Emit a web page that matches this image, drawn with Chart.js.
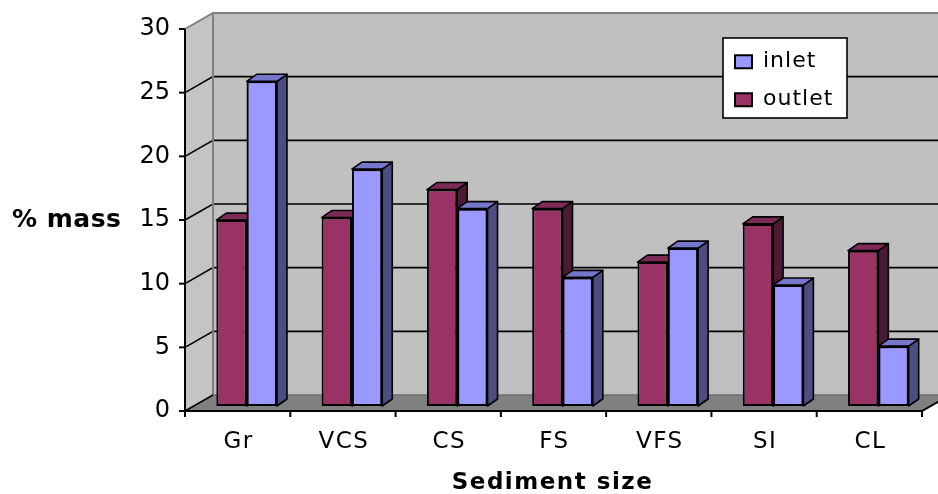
<!DOCTYPE html>
<html>
<head>
<meta charset="utf-8">
<script src="https://cdn.jsdelivr.net/npm/chart.js@4.4.1/dist/chart.umd.min.js"></script>
<style>
html,body{margin:0;padding:0;background:#ffffff;}
#wrap{width:938px;height:494px;}
</style>
</head>
<body>
<div id="wrap"><canvas id="c" width="938" height="494"></canvas></div>
<script>
// ---- data ----
const categories = ['Gr', 'VCS', 'CS', 'FS', 'VFS', 'SI', 'CL'];
const outletValues = [14.6, 14.8, 17.0, 15.5, 11.3, 14.3, 12.2];
const inletValues = [25.5, 18.6, 15.5, 10.1, 12.4, 9.5, 4.7];
const seriesNames = ['outlet', 'inlet'];
const yTickValues = [0, 5, 10, 15, 20, 25, 30];
const xAxisTitle = 'Sediment size';
const yAxisTitle = '% mass';

// ---- styling / pseudo-3D geometry ----
const FRONT = { dx: -9, dy: 5 };
const BACK = { dx: 19, dy: -11 };
const BAR_DEPTH = { dx: 10, dy: -7 };
const FACE_COLORS = [
  { front: '#993366', side: '#4d1a33', top: '#7d2a55' },
  { front: '#9999ff', side: '#4d4d80', top: '#7676cc' }
];

function poly(ctx, pts) {
  ctx.beginPath();
  ctx.moveTo(pts[0][0], pts[0][1]);
  for (let i = 1; i < pts.length; i++) ctx.lineTo(pts[i][0], pts[i][1]);
  ctx.closePath();
}
function line(ctx, pts, color, w) {
  ctx.beginPath();
  ctx.moveTo(pts[0][0], pts[0][1]);
  for (let i = 1; i < pts.length; i++) ctx.lineTo(pts[i][0], pts[i][1]);
  ctx.strokeStyle = color;
  ctx.lineWidth = w;
  ctx.stroke();
}
function withSpacing(obj, method, spacing, shiftX) {
  if (!obj || obj['_sp_' + method]) return;
  const orig = obj[method];
  obj['_sp_' + method] = true;
  obj[method] = function (...args) {
    const ctx = this.ctx;
    ctx.save();
    ctx.letterSpacing = spacing;
    if (shiftX) ctx.translate(shiftX, 0);
    const r = orig.apply(this, args);
    ctx.restore();
    return r;
  };
}

const fake3d = {
  id: 'fake3d',
  afterLayout(chart) {
    const lg = chart.legend;
    if (lg) {
      lg.left = 719; lg.top = 34.7;
      lg.width = 140; lg.height = 200;
      lg.right = lg.left + lg.width; lg.bottom = lg.top + lg.height;
      withSpacing(lg, 'draw', '1px', 0);
    }
    withSpacing(chart.scales.x, 'drawLabels', '1.5px', 0);
    withSpacing(chart.scales.x, 'drawTitle', '1.5px', -10);
  },
  beforeDraw(chart) {
    const { ctx, chartArea: ca, scales } = chart;
    const x = scales.x, y = scales.y;
    const yMin = yTickValues[0], yMax = yTickValues[yTickValues.length - 1];
    const fy = v => y.getPixelForValue(v) + FRONT.dy;
    const by = v => y.getPixelForValue(v) + BACK.dy;
    const fl = ca.left + FRONT.dx, fr = ca.right + FRONT.dx;
    const bl = ca.left + BACK.dx, br = ca.right + BACK.dx;
    ctx.save();
    // back wall
    ctx.fillStyle = '#c0c0c0';
    poly(ctx, [[bl, by(yMax)], [br + 40, by(yMax)], [br + 40, by(yMin)], [bl, by(yMin)]]);
    ctx.fill();
    // left wall
    ctx.fillStyle = '#c4c4c4';
    poly(ctx, [[fl, fy(yMax)], [bl, by(yMax)], [bl, by(yMin)], [fl, fy(yMin)]]);
    ctx.fill();
    // floor
    ctx.fillStyle = '#808080';
    poly(ctx, [[fl, fy(yMin)], [fr, fy(yMin)], [br, by(yMin)], [bl, by(yMin)]]);
    ctx.fill();
    // gridlines
    yTickValues.forEach(v => {
      if (v === yMin || v === yMax) return;
      line(ctx, [[fl, fy(v)], [bl, by(v)], [br + 40, by(v)]], '#000000', 1.6);
    });
    // wall edges
    line(ctx, [[fl, fy(yMax)], [bl, by(yMax)], [br + 40, by(yMax)]], '#808080', 2);
    line(ctx, [[bl, by(yMax)], [bl, by(yMin)]], '#808080', 2);
    line(ctx, [[bl, by(yMin)], [br + 40, by(yMin)]], '#6e6e6e', 1.5);
    line(ctx, [[fl, fy(yMin)], [bl, by(yMin)]], '#000000', 1.6);
    // front axes
    line(ctx, [[fl, fy(yMax)], [fl, fy(yMin)], [fr, fy(yMin)], [br, by(yMin)]], '#000000', 2);
    yTickValues.forEach(v => line(ctx, [[fl - 6, fy(v)], [fl, fy(v)]], '#000000', 2));
    const half = (x.getPixelForValue(1) - x.getPixelForValue(0)) / 2;
    for (let i = 0; i <= categories.length; i++) {
      const px = x.getPixelForValue(0) - half + i * 2 * half + FRONT.dx;
      line(ctx, [[px, fy(yMin)], [px, fy(yMin) + 6]], '#000000', 2);
    }
    // legend frame
    ctx.fillStyle = '#ffffff';
    ctx.fillRect(723, 38, 124, 80);
    ctx.strokeStyle = '#000000';
    ctx.lineWidth = 1.6;
    ctx.strokeRect(723, 38, 124, 80);
    // horizontal y-axis title
    ctx.fillStyle = '#000000';
    ctx.font = 'bold 25px "DejaVu Sans"';
    ctx.letterSpacing = '0.5px';
    ctx.textAlign = 'left';
    ctx.textBaseline = 'middle';
    ctx.fillText(yAxisTitle, 12, 220);
    ctx.restore();
  },
  afterDatasetsDraw(chart) {
    const { ctx } = chart;
    const metas = chart.data.datasets.map((d, i) => chart.getDatasetMeta(i));
    ctx.save();
    for (let i = 0; i < categories.length; i++) {
      metas.forEach((meta, d) => {
        const el = meta.data[i];
        if (!el) return;
        if (d > 0) el.draw(ctx, chart.chartArea);
        const p = el.getProps(['x', 'y', 'base', 'width'], true);
        const l = p.x - p.width / 2, r = p.x + p.width / 2;
        const t = p.y, b = p.base;
        ctx.lineJoin = 'round';
        ctx.strokeStyle = '#000000';
        ctx.lineWidth = 1.6;
        ctx.fillStyle = FACE_COLORS[d].side;
        poly(ctx, [[r, t], [r + BAR_DEPTH.dx, t + BAR_DEPTH.dy], [r + BAR_DEPTH.dx, b + BAR_DEPTH.dy], [r, b]]);
        ctx.fill(); ctx.stroke();
        ctx.fillStyle = FACE_COLORS[d].top;
        poly(ctx, [[l, t], [l + BAR_DEPTH.dx, t + BAR_DEPTH.dy], [r + BAR_DEPTH.dx, t + BAR_DEPTH.dy], [r, t]]);
        ctx.fill(); ctx.stroke();
      });
    }
    ctx.restore();
  }
};

Chart.defaults.font.family = '"DejaVu Sans", sans-serif';
Chart.defaults.color = '#000000';

new Chart(document.getElementById('c'), {
  type: 'bar',
  data: {
    labels: categories,
    datasets: [
      {
        label: seriesNames[0], data: outletValues,
        backgroundColor: FACE_COLORS[0].front, borderColor: '#000000',
        borderWidth: 2, borderSkipped: false
      },
      {
        label: seriesNames[1], data: inletValues,
        backgroundColor: FACE_COLORS[1].front, borderColor: '#000000',
        borderWidth: 2, borderSkipped: false
      }
    ]
  },
  options: {
    responsive: false,
    devicePixelRatio: 1,
    animation: false,
    categoryPercentage: 0.576,
    barPercentage: 1.0,
    layout: { autoPadding: false, padding: { left: 0, top: 24, right: 7, bottom: 0 } },
    plugins: {
      tooltip: { enabled: false },
      legend: {
        position: 'chartArea',
        align: 'start',
        reverse: true,
        labels: {
          font: { size: 22 },
          color: '#000000',
          boxWidth: 17,
          boxHeight: 13,
          padding: 16
        }
      }
    },
    scales: {
      x: {
        grid: { display: false, drawTicks: false },
        border: { display: false },
        ticks: { font: { size: 23 }, color: '#000000', padding: 22, labelOffset: -8, maxRotation: 0, autoSkip: false },
        title: { display: true, text: xAxisTitle, font: { size: 23, weight: 'bold' }, color: '#000000', padding: { top: 0, bottom: -3 } },
        afterFit(s) { s.height = 88; s.paddingLeft = 0; s.paddingRight = 0; }
      },
      y: {
        min: yTickValues[0],
        max: yTickValues[yTickValues.length - 1],
        grid: { display: false, drawTicks: false },
        border: { display: false },
        ticks: { stepSize: 5, font: { size: 24 }, color: '#000000', padding: 24, labelOffset: 5 },
        afterFit(s) { s.width = 194; s.paddingTop = 0; s.paddingBottom = 0; }
      }
    }
  },
  plugins: [fake3d]
});
</script>
</body>
</html>
